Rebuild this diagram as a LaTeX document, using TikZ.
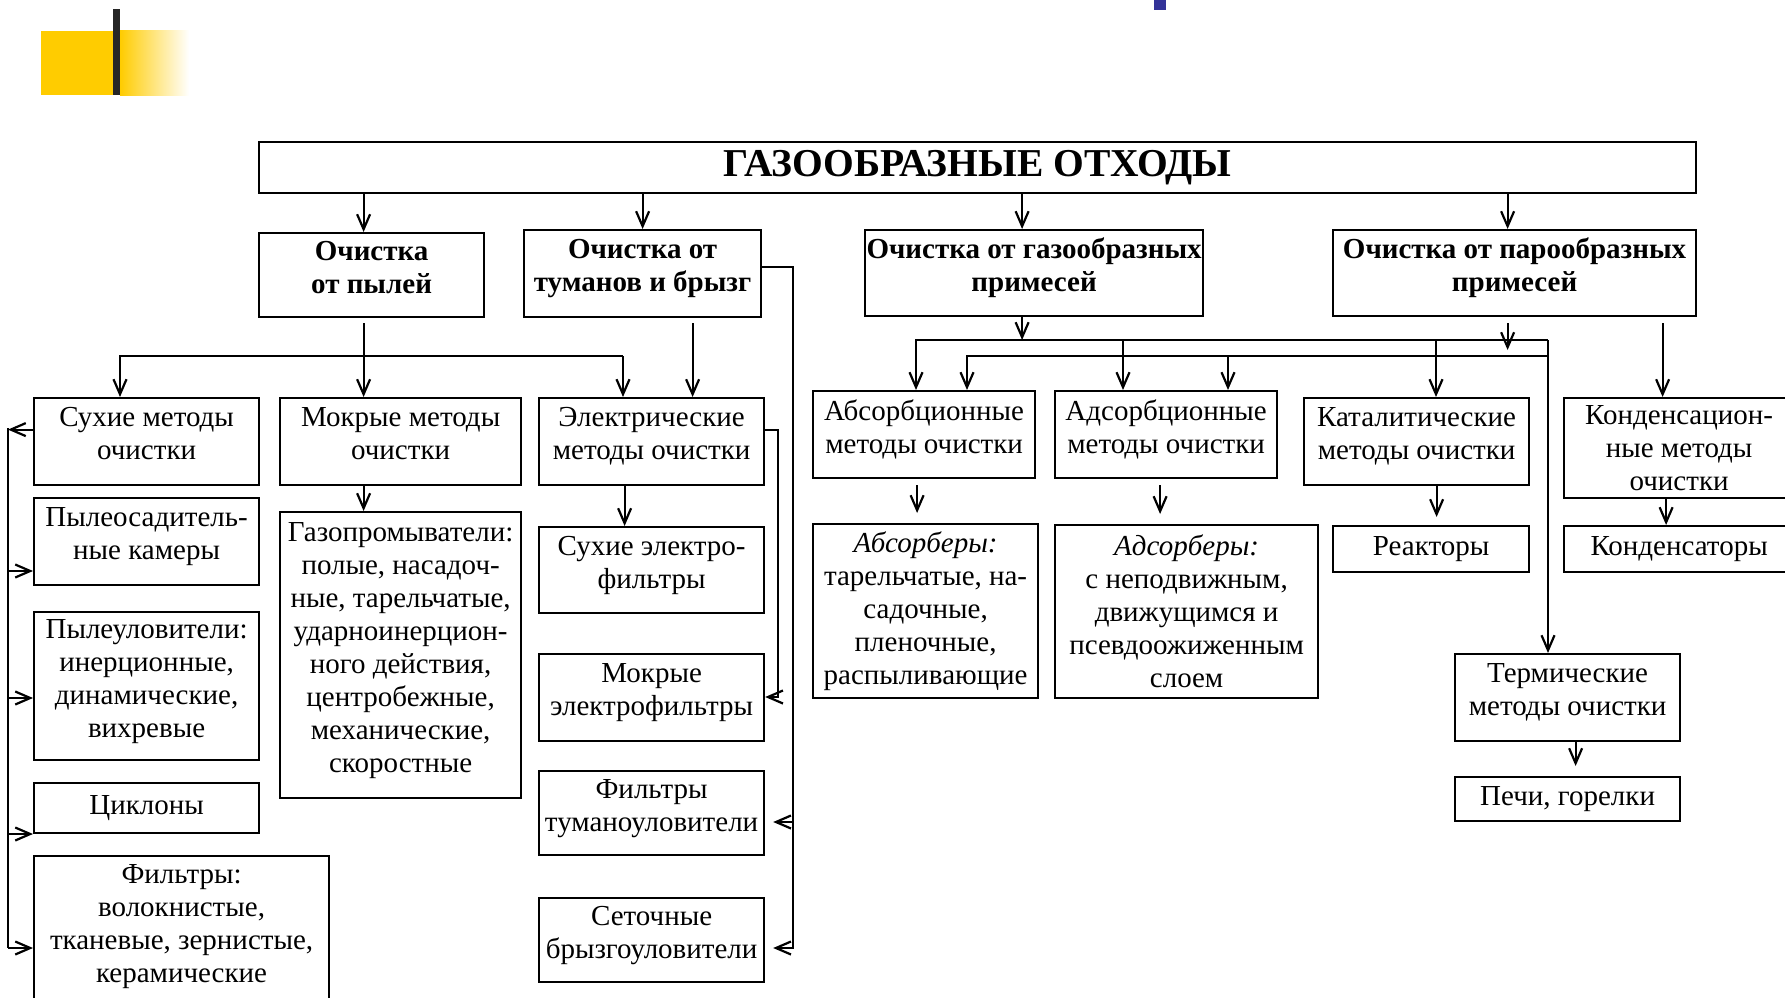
\documentclass[tikz,border=0pt]{standalone}
\usepackage{fontspec}
\setmainfont{Liberation Serif}
\usetikzlibrary{arrows.meta}
\definecolor{baryellow}{HTML}{FFCC00}
\definecolor{barblue}{HTML}{333399}
\tikzset{
  plainbox/.style={rectangle, draw=black, line width=2.2pt, align=center, anchor=north west, inner xsep=1pt, inner ysep=2pt, font=\fontsize{29}{33}\selectfont},
  box/.style={plainbox, text depth=16pt},
  headbox/.style={box, font=\bfseries\fontsize{29}{33}\selectfont},
  link/.style={line width=2.2pt},
  arr/.style={link, -{Straight Barb[length=15pt,width=13pt]}}
}
\begin{document}
\begin{tikzpicture}[x=1pt,y=-1pt]
\useasboundingbox (0,0) rectangle (1785,998);
\fill[baryellow] (41,31) rectangle (120,95);
\shade[left color=baryellow, right color=white] (120,31) rectangle (189,95);
\fill[black!85] (113,9) rectangle (120,95);
\fill[barblue] (1154,0) rectangle (1166,10);

\node[plainbox, font=\bfseries\fontsize{39.5}{44}\selectfont, minimum width=1437pt, minimum height=51pt] (Waste) at (258,141) {ГАЗООБРАЗНЫЕ ОТХОДЫ};
\node[headbox, minimum width=225pt, minimum height=84pt] (Dust) at (258,232) {Очистка\\от пылей};
\node[headbox, minimum width=237pt, minimum height=87pt] (Mist) at (523,229) {Очистка от\\туманов и брызг};
\node[headbox, minimum width=338pt, minimum height=86pt] (Gas) at (864,229) {Очистка от газообразных\\примесей};
\node[headbox, minimum width=363pt, minimum height=86pt] (Vapor) at (1332,229) {Очистка от парообразных\\примесей};

\node[box, minimum width=225pt, minimum height=87pt] (Dry) at (33,397) {Сухие методы\\очистки};
\node[box, minimum width=225pt, minimum height=87pt] (Settle) at (33,497) {Пылеосадитель-\\ные камеры};
\node[box, minimum width=225pt, minimum height=148pt] (Catcher) at (33,611) {Пылеуловители:\\инерционные,\\динамические,\\вихревые};
\node[plainbox, minimum width=225pt, minimum height=50pt] (Cyclone) at (33,782) {Циклоны};
\node[box, minimum width=295pt, minimum height=150pt] (Filter) at (33,855) {Фильтры:\\волокнистые,\\тканевые, зернистые,\\керамические};

\node[box, minimum width=241pt, minimum height=87pt] (Wet) at (279,397) {Мокрые методы\\очистки};
\node[box, minimum width=241pt, minimum height=286pt] (Scrub) at (279,511) {Газопромыватели:\\полые, насадоч-\\ные, тарельчатые,\\ударноинерцион-\\ного действия,\\центробежные,\\механические,\\скоростные};

\node[box, minimum width=225pt, minimum height=87pt] (Elec) at (538,397) {Электрические\\методы очистки};
\node[box, minimum width=225pt, minimum height=86pt] (DryElec) at (538,526) {Сухие электро-\\фильтры};
\node[box, minimum width=225pt, minimum height=87pt] (WetElec) at (538,653) {Мокрые\\электрофильтры};
\node[box, minimum width=225pt, minimum height=84pt] (MistFilt) at (538,770) {Фильтры\\туманоуловители};
\node[box, minimum width=225pt, minimum height=84pt] (Mesh) at (538,897) {Сеточные\\брызгоуловители};

\node[box, minimum width=222pt, minimum height=87pt] (AbsM) at (812,390) {Абсорбционные\\методы очистки};
\node[box, minimum width=222pt, minimum height=87pt] (AdsM) at (1054,390) {Адсорбционные\\методы очистки};
\node[box, minimum width=225pt, minimum height=87pt] (CatM) at (1303,397) {Каталитические\\методы очистки};
\node[plainbox, minimum width=230pt, minimum height=100pt] (CondM) at (1563,397) {Конденсацион-\\ные методы\\очистки};
\node[plainbox, minimum width=225pt, minimum height=174pt] (AbsB) at (812,523) {\textit{Абсорберы:}\\тарельчатые, на-\\садочные,\\пленочные,\\распыливающие};
\node[plainbox, minimum width=263pt, minimum height=173pt] (AdsB) at (1054,524) {\textit{Адсорберы:}\\с неподвижным,\\движущимся и\\псевдоожиженным\\слоем};
\node[plainbox, minimum width=196pt, minimum height=46pt] (React) at (1332,525) {Реакторы};
\node[plainbox, minimum width=230pt, minimum height=46pt] (Cond) at (1563,525) {Конденсаторы};
\node[box, minimum width=225pt, minimum height=87pt] (Therm) at (1454,653) {Термические\\методы очистки};
\node[plainbox, minimum width=225pt, minimum height=44pt] (Furn) at (1454,776) {Печи, горелки};

\draw[arr] ([xshift=-8pt]Dust.north |- Waste.south) -- ([xshift=-8pt]Dust.north);
\draw[arr] (Mist.north |- Waste.south) -- (Mist.north);
\draw[arr] ([xshift=-12pt]Gas.north |- Waste.south) -- ([xshift=-12pt]Gas.north);
\draw[arr] ([xshift=-7pt]Vapor.north |- Waste.south) -- ([xshift=-7pt]Vapor.north);

\coordinate (DustL) at (120,356);
\coordinate (DustR) at (623,356);
\draw[arr, shorten <=5pt] ([xshift=-8pt]Dust.south) -- ([xshift=-8pt]Dust.south |- Wet.north);
\draw[arr] (DustR) -| (DustL |- Dry.north);
\draw[arr] (DustR) -- (DustR |- Elec.north);
\draw[arr] ([xshift=-37pt]Wet.south) -- ([xshift=-37pt]Wet.south |- Scrub.north);

\coordinate (DryA) at (8,428);
\coordinate (DryB) at (8,571);
\coordinate (DryC) at (8,698);
\coordinate (DryD) at (8,834);
\coordinate (DryE) at (8,948);
\draw[arr] ([yshift=12pt]Dry.west) -- ([yshift=12pt]Dry.west -| DryA);
\draw[link] (DryA) -- (DryE);
\draw[arr] (DryB) -- (DryB -| Settle.west);
\draw[arr] (DryC) -- (DryC -| Catcher.west);
\draw[arr] (DryD) -- (DryD -| Cyclone.west);
\draw[arr] (DryE) -- (DryE -| Filter.west);

\draw[arr, shorten <=5pt] ([xshift=50pt]Mist.south) -- ([xshift=50pt]Mist.south |- Elec.north);
\coordinate (MistA) at (793,822);
\coordinate (MistB) at (793,948);
\draw[arr, shorten >=8pt] ([yshift=7pt]Mist.east) -| (MistB) -- (MistB -| Mesh.east);
\draw[arr, shorten >=8pt] (MistA) -- (MistA -| MistFilt.east);

\coordinate (ElecA) at (778,697);
\draw[arr] ([yshift=12pt]Elec.east) -| (ElecA) -- (ElecA -| WetElec.east);
\draw[arr] ([xshift=-27pt]Elec.south) -- ([xshift=-27pt]Elec.south |- DryElec.north);

\coordinate (GasA) at (916,340);
\coordinate (GasB) at (1548,340);
\coordinate (GasC) at (1123,340);
\coordinate (GasD) at (1436,340);
\coordinate (VapA) at (967,356);
\coordinate (VapB) at (1548,356);
\coordinate (VapC) at (1228,356);
\draw[arr] ([xshift=-12pt]Gas.south) -- ([xshift=-12pt]Gas.south |- GasA);
\draw[arr] (GasB) -| (GasA |- AbsM.north);
\draw[arr] (GasB) -- (GasB |- Therm.north);
\draw[arr] (GasC) -- (GasC |- AdsM.north);
\draw[arr] (GasD) -- (GasD |- CatM.north);
\draw[arr] (VapB) -| (VapA |- AbsM.north);
\draw[arr] (VapC) -- (VapC |- AdsM.north);
\draw[arr, shorten <=6pt, shorten >=6pt] ([xshift=-7pt]Vapor.south) -- ([xshift=-7pt]Vapor.south |- VapB);
\draw[arr, shorten <=6pt] ([xshift=148pt]Vapor.south) -- ([xshift=148pt]Vapor.south |- CondM.north);

\draw[arr, shorten <=6pt, shorten >=10pt] ([xshift=-7pt]AbsM.south) -- ([xshift=-7pt]AbsM.south |- AbsB.north);
\draw[arr, shorten <=6pt, shorten >=10pt] ([xshift=-6pt]AdsM.south) -- ([xshift=-6pt]AdsM.south |- AdsB.north);
\draw[arr, shorten >=8pt] ([xshift=20pt]CatM.south) -- ([xshift=20pt]CatM.south |- React.north);
\draw[arr] ([xshift=-13pt]CondM.south) -- ([xshift=-13pt]CondM.south |- Cond.north);
\draw[arr, shorten >=10pt] ([xshift=8pt]Therm.south) -- ([xshift=8pt]Therm.south |- Furn.north);
\end{tikzpicture}
\end{document}
